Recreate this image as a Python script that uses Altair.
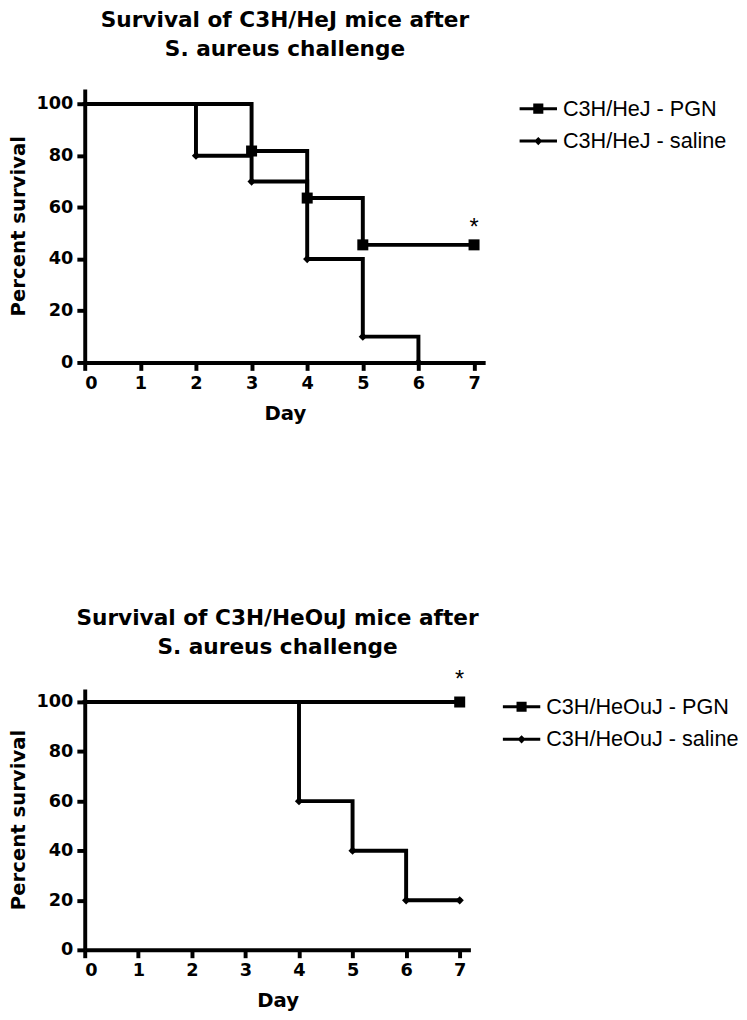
import altair as alt
import pandas as pd

# ---------------- data ----------------
top_pgn_days = [0, 3, 4, 5, 7]
top_pgn_surv = [100, 81.8, 63.6, 45.5, 45.5]
top_pgn_mark = [False, True, True, True, True]

top_sal_days = [0, 2, 3, 4, 5, 6]
top_sal_surv = [100, 80, 70, 40, 10, 0]
top_sal_mark = [False, True, True, True, True, True]

bot_pgn_days = [0, 7]
bot_pgn_surv = [100, 100]
bot_pgn_mark = [False, True]

bot_sal_days = [0, 4, 5, 6, 7]
bot_sal_surv = [100, 60, 40, 20, 20]
bot_sal_mark = [False, True, True, True, True]

top_series = ["C3H/HeJ - PGN", "C3H/HeJ - saline"]
bot_series = ["C3H/HeOuJ - PGN", "C3H/HeOuJ - saline"]

top_star = {"day": [7], "surv": [52], "label": ["*"]}
bot_star = {"day": [7], "surv": [109], "label": ["*"]}

top_title = ["Survival of C3H/HeJ mice after", "S. aureus challenge"]
bot_title = ["Survival of C3H/HeOuJ mice after", "S. aureus challenge"]

day_ticks = [0, 1, 2, 3, 4, 5, 6, 7]
surv_ticks = [0, 20, 40, 60, 80, 100]

FONT = "Liberation Sans"
BOLD_FONT = "DejaVu Sans"

# legend symbols: line with marker (unit coordinates)
LEG_SQUARE = "M-1,-0.08H1V0.08H-1Z M-0.27,-0.27H0.27V0.27H-0.27Z"
LEG_DIAMOND = "M-1,-0.08H1V0.08H-1Z M0,-0.22L0.22,0L0,0.22L-0.22,0Z"


def frame(days, surv, marks, name):
    return pd.DataFrame({"day": days, "surv": surv, "marker": marks, "series": name})


def panel(pgn, sal, series, star, title, width, height, ymax, legx, legy, toff):
    df = pd.concat([pgn, sal], ignore_index=True)
    base = alt.Chart(df)
    x = alt.X("day:Q", scale=alt.Scale(domain=[0, 7.2], nice=False, zero=False),
              axis=alt.Axis(values=day_ticks, title="Day", format="d"))
    y = alt.Y("surv:Q", scale=alt.Scale(domain=[0, ymax], nice=False),
              axis=alt.Axis(values=surv_ticks, title="Percent survival"))

    line = base.mark_line(interpolate="step-after", color="black", strokeWidth=4,
                          strokeCap="square").encode(x=x, y=y, detail="series:N")
    sq = base.transform_filter(
        (alt.datum.marker == True) & (alt.datum.series == series[0])
    ).mark_point(filled=True, color="black", opacity=1, shape="square", size=125).encode(x=x, y=y)
    dm = base.transform_filter(
        (alt.datum.marker == True) & (alt.datum.series == series[1])
    ).mark_point(filled=True, color="black", opacity=1, shape="diamond", size=70).encode(x=x, y=y)
    leg = base.mark_point(filled=True, color="black", opacity=0, size=1444).encode(
        x=x, y=y,
        shape=alt.Shape("series:N",
                        scale=alt.Scale(domain=series, range=[LEG_SQUARE, LEG_DIAMOND]),
                        legend=alt.Legend(title=None, orient="none", legendX=legx, legendY=legy,
                                          symbolOpacity=1, symbolFillColor="black",
                                          symbolStrokeWidth=0, symbolSize=1444,
                                          labelFont=FONT, labelFontSize=22,
                                          labelColor="black", labelOffset=6,
                                          rowPadding=3, labelLimit=400)),
    )
    st = alt.Chart(pd.DataFrame(star)).mark_text(fontSize=24, font=FONT, color="black",
                                                 baseline="middle").encode(
        x=alt.X("day:Q"), y=alt.Y("surv:Q"), text="label:N")

    return alt.layer(line, sq, dm, leg, st).properties(
        width=width, height=height,
        title=alt.TitleParams(text=title, fontSize=22, font=BOLD_FONT, fontWeight="bold",
                              lineHeight=30, anchor="middle", offset=toff, color="black"),
    )


top = panel(frame(top_pgn_days, top_pgn_surv, top_pgn_mark, top_series[0]),
            frame(top_sal_days, top_sal_surv, top_sal_mark, top_series[1]),
            top_series, top_star, top_title, 407, 278, 105.8, 442, 1, 28)
bot = panel(frame(bot_pgn_days, bot_pgn_surv, bot_pgn_mark, bot_series[0]),
            frame(bot_sal_days, bot_sal_surv, bot_sal_mark, bot_series[1]),
            bot_series, bot_star, bot_title, 392, 265, 105.2, 425, -1, 9)

chart = alt.vconcat(top, bot, spacing=186).resolve_scale(shape="independent").properties(
    padding={"left": 0, "top": -7, "right": 0, "bottom": 0}
).configure_view(stroke=None).configure_axis(
    domainColor="black", domainWidth=4, tickColor="black", tickWidth=4, tickSize=8,
    grid=False, labelFont=BOLD_FONT, labelFontSize=18, labelFontWeight="bold", labelColor="black",
    labelPadding=4, titleFont=BOLD_FONT, titleFontSize=20, titleFontWeight="bold", titleColor="black",
).configure_axisX(titlePadding=12).configure_axisY(titlePadding=8)

chart.save("out.html", embed_options={"renderer": "svg", "actions": False})
